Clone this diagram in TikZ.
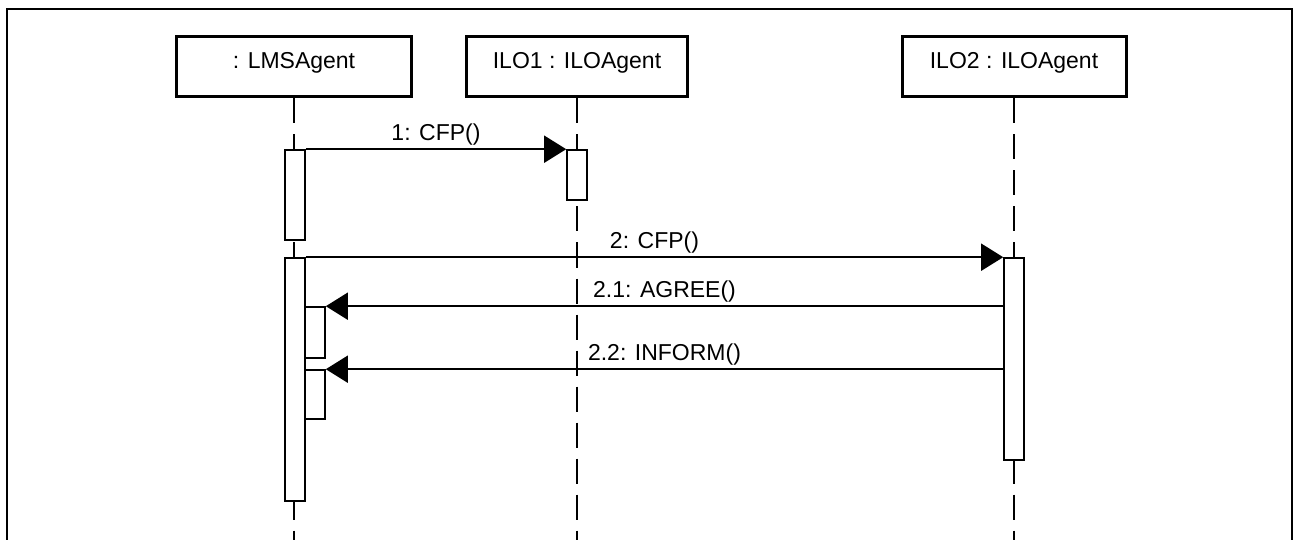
\documentclass[tikz,border=0pt]{standalone}
\usepackage{fontspec}
\setmainfont{Liberation Sans}
\usetikzlibrary{arrows.meta,positioning,calc}
\tikzset{
  obj/.style={rectangle, draw=black, line width=3pt, fill=white, minimum height=60pt,
    inner sep=0pt, text height=16.5pt, text depth=12.5pt},
  act/.style={rectangle, draw=black, line width=1.6pt, fill=white, minimum width=20pt, inner sep=0pt},
  life/.style={line width=1.6pt, dash pattern=on 25pt off 11pt},
  msg/.style={-{Triangle[length=22pt, width=27pt]}, line width=1.8pt},
  lbl/.style={inner sep=3.5pt, font=\fontsize{23}{27}\selectfont},
  frame/.style={line width=2.8pt},
}
\newcommand{\actbar}[4]{\node[act, minimum height=#4pt] (#1) at (#2,#3) {};}
\begin{document}
\begin{tikzpicture}[x=1pt, y=-1pt, font=\fontsize{23}{27}\selectfont]
  \useasboundingbox (0,0) rectangle (1296,540);
  \draw[frame] (7,9) rectangle (1292,565);
  \coordinate (bot) at (0,560);
  % objects
  \node[obj, minimum width=235pt] (lms) at (294,67) {: LMSAgent};
  \node[obj, minimum width=221pt] (ilo1) at (577,67) {ILO1 : ILOAgent};
  \node[obj, minimum width=224pt] (ilo2) at (1014,67) {ILO2 : ILOAgent};
  \foreach \o in {lms,ilo1,ilo2} \draw[life] (\o.south) -- (\o.south |- bot);
  % activations
  \actbar{lmsA}{295}{195}{90}
  \actbar{iloA}{577}{175}{50}
  \actbar{lmsB}{295}{379.5}{243}
  \actbar{iloB}{1014}{359}{202}
  \actbar{lmsC}{315}{332.5}{51}
  \actbar{lmsD}{315}{394.5}{49}
  % messages
  \draw[msg] (lmsA.north east) -- node[lbl, midway, above] {1: CFP()} (iloA.north west);
  \draw[msg] (lmsB.north east) -- node[lbl, midway, above] {2: CFP()} (iloB.north west);
  \draw[msg] (iloB.west |- lmsC.north) -- node[lbl, midway, above] {2.1: AGREE()} (lmsC.north east);
  \draw[msg] (iloB.west |- lmsD.north) -- node[lbl, midway, above] {2.2: INFORM()} (lmsD.north east);
\end{tikzpicture}
\end{document}
